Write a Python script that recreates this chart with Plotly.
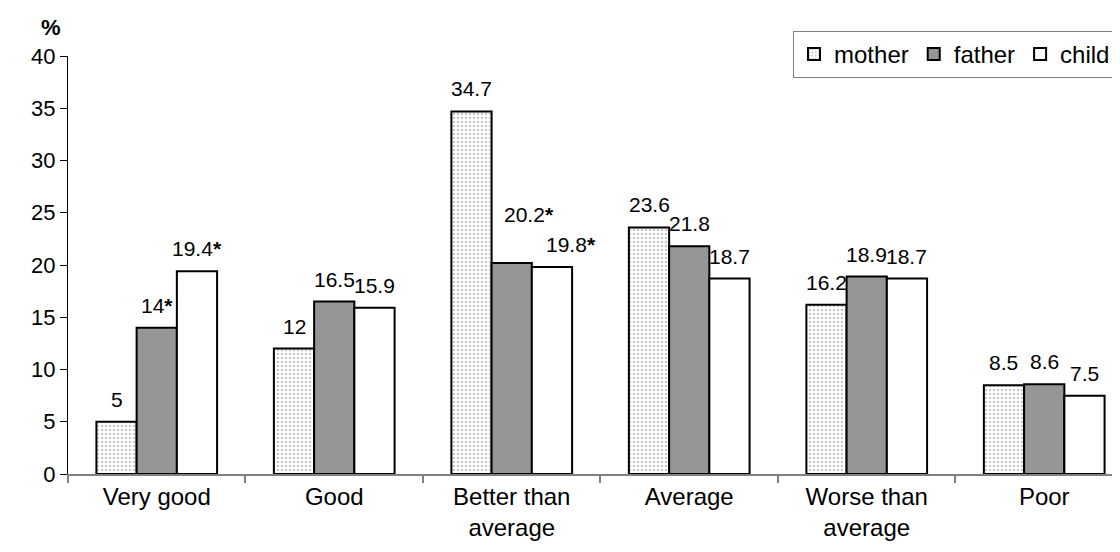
import plotly.graph_objects as go

categories = ["Very good", "Good", "Better than<br>average", "Average", "Worse than<br>average", "Poor"]
series_names = ["mother", "father", "child"]
mother = [5, 12, 34.7, 23.6, 16.2, 8.5]
father = [14, 16.5, 20.2, 21.8, 18.9, 8.6]
child = [19.4, 15.9, 19.8, 18.7, 18.7, 7.5]
labels_mother = ["5", "12", "34.7", "23.6", "16.2", "8.5"]
labels_father = ["14<b>*</b>", "16.5", "20.2<b>*</b>", "21.8", "18.9", "8.6"]
labels_child = ["19.4<b>*</b>", "15.9", "19.8<b>*</b>", "18.7", "18.7", "7.5"]

# label nudges (pixels) to avoid overlaps, as in the original chart: (series, category) -> (dx, dy)
label_nudges = {(1, 2): (17, 26), (2, 2): (19, 0)}

FONT = "Liberation Sans, Arial, sans-serif"
FS = 24
FS_LBL = 21
x_idx = list(range(len(categories)))
bargap = 0.32
w = (1 - bargap) / 3

patterns = [
    dict(shape=".", fgcolor="#909090", bgcolor="#ffffff", size=4, solidity=0.3),
    dict(shape=".", fgcolor="#2a2a2a", bgcolor="#b4b4b4", size=2, solidity=0.5),
    dict(shape="", fgcolor="#ffffff", bgcolor="#ffffff"),
]
values = [mother, father, child]
labels = [labels_mother, labels_father, labels_child]

fig = go.Figure()
for k, (name, vals) in enumerate(zip(series_names, values)):
    fig.add_trace(go.Bar(
        x=x_idx, y=vals, name=name,
        marker=dict(color="#ffffff", line=dict(color="#000000", width=2), pattern=patterns[k]),
        hoverinfo="skip",
    ))

annotations = []
for k, (vals, labs) in enumerate(zip(values, labels)):
    for i, (v, t) in enumerate(zip(vals, labs)):
        dx, dy = label_nudges.get((k, i), (0, 0))
        annotations.append(dict(
            x=i + (k - 1) * w, y=v, xref="x", yref="y", text=t, showarrow=False,
            yanchor="bottom", yshift=10 + dy, xshift=dx, borderpad=0,
            font=dict(family=FONT, size=FS_LBL, color="#000000"),
        ))
annotations.append(dict(
    x=-0.016, y=1.068, xref="paper", yref="paper", text="<b>%</b>", showarrow=False,
    xanchor="center", yanchor="middle", borderpad=0,
    font=dict(family=FONT, size=22, color="#000000"),
))

fig.update_layout(
    width=1120, height=552,
    margin=dict(l=60, r=0, t=48, b=86, autoexpand=False),
    paper_bgcolor="#ffffff", plot_bgcolor="#ffffff",
    barmode="group", bargap=bargap, bargroupgap=0,
    font=dict(family=FONT, size=FS, color="#000000"),
    showlegend=True,
    legend=dict(
        orientation="h", x=0.9887, xanchor="right", y=1.06, yanchor="top",
        bordercolor="#808080", borderwidth=1, bgcolor="#ffffff",
        font=dict(family=FONT, size=FS, color="#000000"),
        itemwidth=30, tracegroupgap=0,
    ),
    annotations=annotations,
    xaxis=dict(
        range=[-0.5, 5.472], tickmode="array", tickvals=x_idx, ticktext=categories,
        ticks="", showline=True, linecolor="#808080", linewidth=1.5, showgrid=False,
        zeroline=False, tickfont=dict(family=FONT, size=FS, color="#000000"),
        automargin=False,
        minor=dict(ticks="outside", tick0=0.5, dtick=1, ticklen=7, tickcolor="#808080", tickwidth=1.5, showgrid=False),
    ),
    yaxis=dict(
        range=[0, 40], dtick=5, ticks="outside", ticklen=7, tickcolor="#000000",
        showline=True, linecolor="#000000", linewidth=1, showgrid=False, zeroline=False,
        automargin=False,
        tickfont=dict(family=FONT, size=22, color="#000000"),
    ),
)

fig.write_html("out.html")
